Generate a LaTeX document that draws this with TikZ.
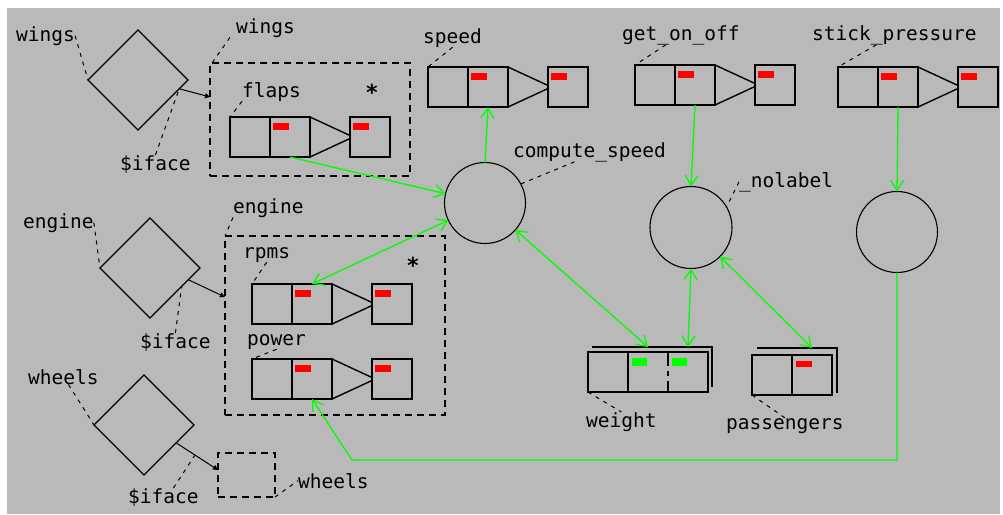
\documentclass[tikz,border=0pt]{standalone}
\usepackage{fontspec}
\newfontfamily\labelfont{DejaVu Sans Mono}
\usetikzlibrary{shapes.geometric,arrows.meta,positioning}

\definecolor{panel}{RGB}{185,185,185}
\definecolor{wire}{RGB}{0,255,0}
\definecolor{full}{RGB}{255,0,0}

\tikzset{
    cell/.style={draw, line width=1.4pt, minimum size=40pt, inner sep=0pt, outer sep=0pt},
    cellline/.style={line width=1.4pt},
    fullmark/.style={fill=full},
    okmark/.style={fill=wire},
    groupbox/.style={draw, line width=1.4pt, dash pattern=on 7pt off 5pt, inner sep=0pt, outer sep=0pt},
    iface/.style={diamond, draw, line width=1.1pt, minimum width=100pt, minimum height=100pt, inner sep=0pt, outer sep=0pt},
    proc/.style={circle, draw, line width=1.1pt, inner sep=0pt, outer sep=0pt},
    lbl/.style={font={\labelfont\fontsize{19.5}{20}\selectfont}, inner sep=0pt, anchor=base west},
    starlbl/.style={font={\labelfont\bfseries\fontsize{22}{22}\selectfont}, inner sep=0pt},
    leader/.style={line width=1pt, dash pattern=on 4pt off 5pt},
    tap/.style={line width=1pt, -{Triangle[length=5pt,width=5pt]}},
    flow/.style={wire, line width=1.3pt},
    >={Straight Barb[length=10pt,width=13pt]}
}

% name, left x, top y
\newcommand{\portchain}[3]{%
    \node[cell, anchor=north west] (#1-a) at (#2,#3) {};
    \node[cell, anchor=west] (#1-b) at (#1-a.east) {};
    \node[cell, anchor=west] (#1-c) at ([xshift=40pt]#1-b.east) {};
    \draw[cellline] (#1-b.north east) -- ([yshift=1.5pt]#1-c.west);
    \draw[cellline] (#1-b.south east) -- ([yshift=-1.5pt]#1-c.west);
    \fill[fullmark] ([shift={(3,6)}]#1-b.north west) rectangle ++(16,7);
    \fill[fullmark] ([shift={(3,6)}]#1-c.north west) rectangle ++(16,7);
}

\begin{document}
\begin{tikzpicture}[x=1pt,y=-1pt]
    \useasboundingbox (0,0) rectangle (1003,514);
    \fill[white] (0,0) rectangle (1003,514);
    \fill[panel] (7,8) rectangle (1000,514);

    % Interfaces
    \node[iface] (wingsif) at (138,80) {};
    \node[iface] (engineif) at (150,268) {};
    \node[iface] (wheelsif) at (144,425) {};

    % Groups
    \node[groupbox, anchor=north west, minimum width=200pt, minimum height=113pt] (wingsgrp) at (210,63) {};
    \node[groupbox, anchor=north west, minimum width=220pt, minimum height=179pt] (enginegrp) at (225,236) {};
    \node[groupbox, anchor=north west, minimum width=57pt, minimum height=44pt] (wheelsbox) at (218,453) {};
    \coordinate (wings-port) at (210,97);
    \coordinate (engine-port) at (225,297);

    % Ports
    \portchain{flaps}{230}{117}
    \portchain{speed}{428}{67}
    \portchain{geton}{635}{65}
    \portchain{stick}{838}{67}
    \portchain{rpms}{252}{284}
    \portchain{power}{252}{359}

    % Multiple ports
    \draw[cellline] (592,347) -| (712,387);
    \node[cell, anchor=north west, minimum width=120pt] (weight) at (588,352) {};
    \draw[cellline] ([xshift=40pt]weight.north west) -- ([xshift=40pt]weight.south west);
    \draw[cellline, dash pattern=on 14pt off 5pt on 5pt off 5pt] ([xshift=80pt]weight.north west) -- ([xshift=80pt]weight.south west);
    \fill[okmark] ([shift={(44,6)}]weight.north west) rectangle ++(15,8);
    \fill[okmark] ([shift={(84,6)}]weight.north west) rectangle ++(15,8);
    \coordinate (weight-b) at ([shift={(60,-5)}]weight.north west);
    \coordinate (weight-c) at ([shift={(100,-5)}]weight.north west);

    \draw[cellline] (757,348) -| (837,393);
    \node[cell, anchor=north west, minimum width=80pt] (passengers) at (752,355) {};
    \draw[cellline] ([xshift=40pt]passengers.north west) -- ([xshift=40pt]passengers.south west);
    \fill[fullmark] ([shift={(44,6)}]passengers.north west) rectangle ++(16,6);
    \coordinate (pass-b) at ([shift={(60,-7)}]passengers.north west);

    % Processes
    \node[proc, minimum size=81pt] (compute) at (485,203) {};
    \node[proc, minimum size=82pt] (nolabel) at (691,227.5) {};
    \node[proc, minimum size=81pt] (stickproc) at (897,232) {};
    \coordinate (turn) at (352,460);

    % Labels
    \node[lbl] (wings-lbl) at (16,41) {wings};
    \node[lbl] (wings-iface) at (120,170) {\$iface};
    \node[lbl] (wingsgrp-lbl) at (236,33) {wings};
    \node[lbl] (flaps-lbl) at (242,97) {flaps};
    \node[starlbl] (wings-star) at (372,92) {*};
    \node[lbl] (speed-lbl) at (423,43) {speed};
    \node[lbl] (compute-lbl) at (513,157) {compute\_speed};
    \node[lbl] (geton-lbl) at (622,40) {get\_on\_off};
    \node[lbl] (stick-lbl) at (812,40) {stick\_pressure};
    \node[lbl] (nolabel-lbl) at (739,187) {\_nolabel};
    \node[lbl] (engine-lbl) at (23,228) {engine};
    \node[lbl] (engine-iface) at (140,348) {\$iface};
    \node[lbl] (enginegrp-lbl) at (233,213) {engine};
    \node[lbl] (rpms-lbl) at (243,258) {rpms};
    \node[starlbl] (engine-star) at (413,265) {*};
    \node[lbl] (power-lbl) at (247,345) {power};
    \node[lbl] (wheels-lbl) at (28,384) {wheels};
    \node[lbl] (wheels-iface) at (128,503) {\$iface};
    \node[lbl] (wheelsbox-lbl) at (298,488) {wheels};
    \node[lbl] (weight-lbl) at (586,427) {weight};
    \node[lbl] (pass-lbl) at (726,429) {passengers};

    % Interface taps
    \draw[tap] (wingsif.-12) -- (wings-port);
    \draw[tap] (engineif.-17) -- (engine-port);
    \draw[tap] (wheelsif.-29) -- node[coordinate, pos=.45] (wheels-tap) {} (wheelsbox.170);

    % Leaders
    \draw[leader] (wings-lbl.east) -- (wingsif.west);
    \draw[leader] (wings-iface.north) -- (wingsif.-12);
    \draw[leader] ([xshift=-6pt]wingsgrp-lbl.south west) -- ([xshift=2pt]wingsgrp.north west);
    \draw[leader] (flaps-lbl.south west) -- (flaps-a.north west);
    \draw[leader] (speed-lbl.south) -- (speed-a.north west);
    \draw[leader] ([xshift=-15pt]geton-lbl.south) -- (geton-a.north west);
    \draw[leader] ([xshift=-18pt]stick-lbl.south) -- (stick-a.north west);
    \draw[leader] ([xshift=-15pt]compute-lbl.south) -- (compute.28);
    \draw[leader] (nolabel-lbl.west) -- (nolabel.30);
    \draw[leader] (engine-lbl.east) -- (engineif.west);
    \draw[leader] (engine-iface.north) -- (engineif.-30);
    \draw[leader] (enginegrp-lbl.south west) -- (enginegrp.north west);
    \draw[leader] (rpms-lbl.south) -- (rpms-a.north west);
    \draw[leader] (power-lbl.south) -- (power-a.north west);
    \draw[leader] ([xshift=5pt]wheels-lbl.south) -- (wheelsif.west);
    \draw[leader] ([xshift=10pt]wheels-iface.north) -- (wheels-tap);
    \draw[leader] (wheelsbox.south east) -- (wheelsbox-lbl.west);
    \draw[leader] (weight.south west) -- (weight-lbl.north);
    \draw[leader] (passengers.south west) -- (pass-lbl.north);

    % Flows
    \draw[flow, ->] (flaps-b.south) -- (compute);
    \draw[flow, <->] (rpms-b.north) -- (compute);
    \draw[flow, ->] (compute.north) -- (speed-b.south);
    \draw[flow, <->] (compute) -- (weight-b);
    \draw[flow, ->] (geton-b.south) -- (nolabel.north);
    \draw[flow, <->] (nolabel.south) -- (weight-c);
    \draw[flow, <->] (nolabel) -- (pass-b);
    \draw[flow, ->] (stick-b.south) -- (stickproc.north);
    \draw[flow, ->] (stickproc.south) |- (turn) -- (power-b.south);
\end{tikzpicture}
\end{document}
